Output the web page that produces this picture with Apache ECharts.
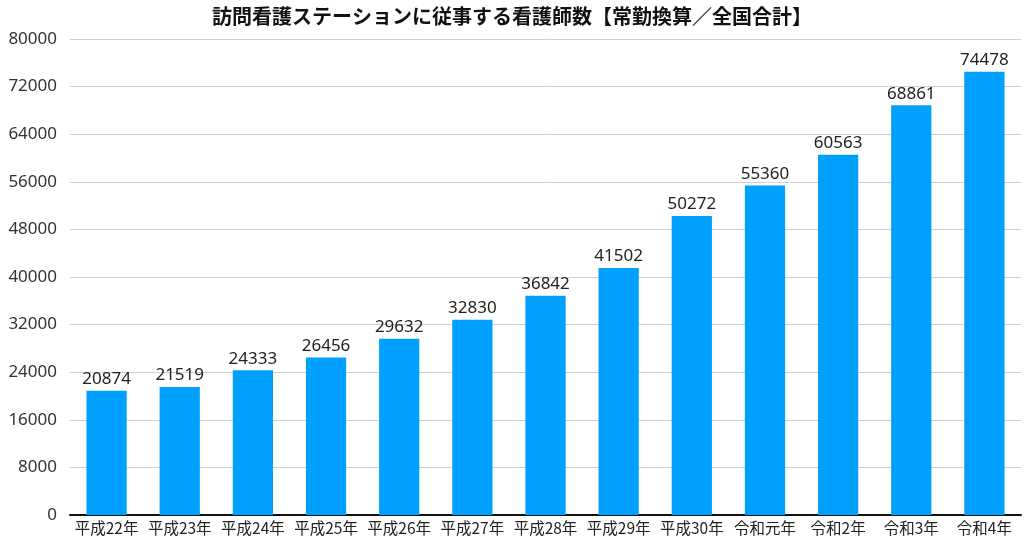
<!DOCTYPE html>
<html><head><meta charset="utf-8">
<script src="https://cdn.jsdelivr.net/npm/echarts@6/dist/echarts.min.js"></script>
<style>html,body{margin:0;padding:0;background:#fff}#c{width:1024px;height:537px}</style>
</head><body><div id="c"></div>
<script>
const categories = ['平成22年','平成23年','平成24年','平成25年','平成26年','平成27年','平成28年','平成29年','平成30年','令和元年','令和2年','令和3年','令和4年'];
const values = [20874,21519,24333,26456,29632,32830,36842,41502,50272,55360,60563,68861,74478];
const title = '訪問看護ステーションに従事する看護師数【常勤換算／全国合計】';
const font = '"Noto Sans CJK JP", "Noto Sans", sans-serif';
const numFont = '"Noto Sans", "Noto Sans CJK JP", sans-serif';
const chart = echarts.init(document.getElementById('c'));
chart.setOption({
  animation:false,
  title:{text:title,left:'center',top:1,textStyle:{fontFamily:font,fontSize:20,fontWeight:'bold',color:'#111'}},
  grid:{left:70,right:3,top:39,bottom:22,containLabel:false},
  xAxis:{type:'category',data:categories,axisTick:{show:false},
    axisLine:{lineStyle:{color:'#111',width:2}},
    axisLabel:{fontFamily:font,fontSize:15.5,color:'#222',margin:5,interval:0}},
  yAxis:{type:'value',min:0,max:80000,interval:8000,
    axisLabel:{fontFamily:numFont,fontSize:17,color:'#333',margin:13,formatter:v=>String(v)},
    splitLine:{lineStyle:{color:'#d0d0d0'}},axisLine:{show:false},axisTick:{show:false}},
  series:[{type:'bar',data:values,barCategoryGap:'45%',
    itemStyle:{color:'#00A0FF'},
    label:{show:true,position:'top',distance:3,fontFamily:numFont,fontSize:17,color:'#222'}}]
});
</script></body></html>
